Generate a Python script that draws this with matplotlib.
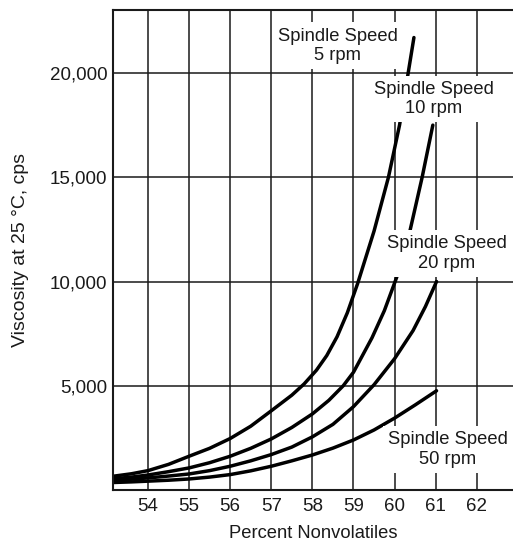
import matplotlib.pyplot as plt
from matplotlib.ticker import FuncFormatter

plt.rcParams["font.family"] = ["Liberation Sans", "DejaVu Sans"]

# viscosity vs percent nonvolatiles
rpm5_x = [53.15, 53.6, 54, 54.5, 55, 55.5, 56, 56.5, 57, 57.5, 57.8, 58.1, 58.35, 58.6,
          58.85, 59.1, 59.5, 59.85, 60.12, 60.33, 60.47]
rpm5_y = [660, 780, 930, 1230, 1620, 2000, 2470, 3060, 3800, 4550, 5090, 5750, 6450, 7350,
          8500, 9900, 12420, 15000, 17500, 20000, 21700]

rpm10_x = [53.15, 53.6, 54, 54.5, 55, 55.5, 56, 56.5, 57, 57.5, 58, 58.4, 58.75, 59,
           59.45, 59.75, 60.05, 60.37, 60.67, 60.93]
rpm10_y = [540, 620, 720, 880, 1060, 1310, 1620, 2000, 2450, 3000, 3650, 4300, 5000, 5650,
           7300, 8600, 10200, 12400, 15000, 17500]

rpm20_x = [53.15, 53.6, 54, 54.5, 55, 55.5, 56, 56.5, 57, 57.5, 58, 58.5, 59, 59.5, 60,
           60.45, 60.75, 61.02]
rpm20_y = [460, 520, 580, 670, 770, 930, 1140, 1400, 1700, 2060, 2550, 3150, 4000, 5050, 6300,
           7650, 8800, 10000]

rpm50_x = [53.15, 53.6, 54, 54.5, 55, 55.5, 56, 56.5, 57, 57.5, 58, 58.5, 59, 59.5, 60,
           60.5, 61.02]
rpm50_y = [360, 390, 425, 470, 530, 620, 740, 920, 1140, 1400, 1680, 2010, 2400, 2880, 3450,
           4080, 4760]

x_ticks = [54, 55, 56, 57, 58, 59, 60, 61, 62]
y_ticks = [5000, 10000, 15000, 20000]

labels = ["Spindle Speed\n5 rpm", "Spindle Speed\n10 rpm",
          "Spindle Speed\n20 rpm", "Spindle Speed\n50 rpm"]
label_pos = [(58.62, 21300), (60.95, 18750), (61.27, 11350), (61.30, 1950)]

ink = "#1a1a1a"

fig = plt.figure(figsize=(5.13, 5.42), dpi=100)
ax = fig.add_axes([0.2203, 0.0959, 0.7797, 0.8856])

for xs, ys in [(rpm5_x, rpm5_y), (rpm10_x, rpm10_y), (rpm20_x, rpm20_y), (rpm50_x, rpm50_y)]:
    ax.plot(xs, ys, color="black", lw=2.5, solid_capstyle="round",
            solid_joinstyle="round", zorder=2)

for txt, (lx, ly) in zip(labels, label_pos):
    ax.text(lx, ly, txt, ha="center", va="center", fontsize=13.2, color=ink,
            linespacing=1.2, zorder=3,
            bbox=dict(boxstyle="square,pad=0.28", fc="white", ec="none"))

ax.set_xlim(53.15, 62.88)
ax.set_ylim(0, 23020)
ax.set_xticks(x_ticks)
ax.set_yticks(y_ticks)
ax.yaxis.set_major_formatter(FuncFormatter(lambda v, p: f"{int(v):,}"))
ax.grid(True, color=ink, lw=1.1, zorder=0.5)
ax.set_axisbelow(True)
ax.tick_params(length=0, labelsize=13.5, colors=ink)
ax.tick_params(axis="x", pad=6)
ax.tick_params(axis="y", pad=4)

for s in ["left", "bottom", "top"]:
    ax.spines[s].set_linewidth(1.5)
    ax.spines[s].set_color(ink)
ax.spines["right"].set_visible(False)

ax.set_xlabel("Percent Nonvolatiles", fontsize=13.2, color=ink, labelpad=7)
ax.set_ylabel("Viscosity at 25 °C, cps", fontsize=14, color=ink, labelpad=15)

fig.savefig("out.png", dpi=100)
